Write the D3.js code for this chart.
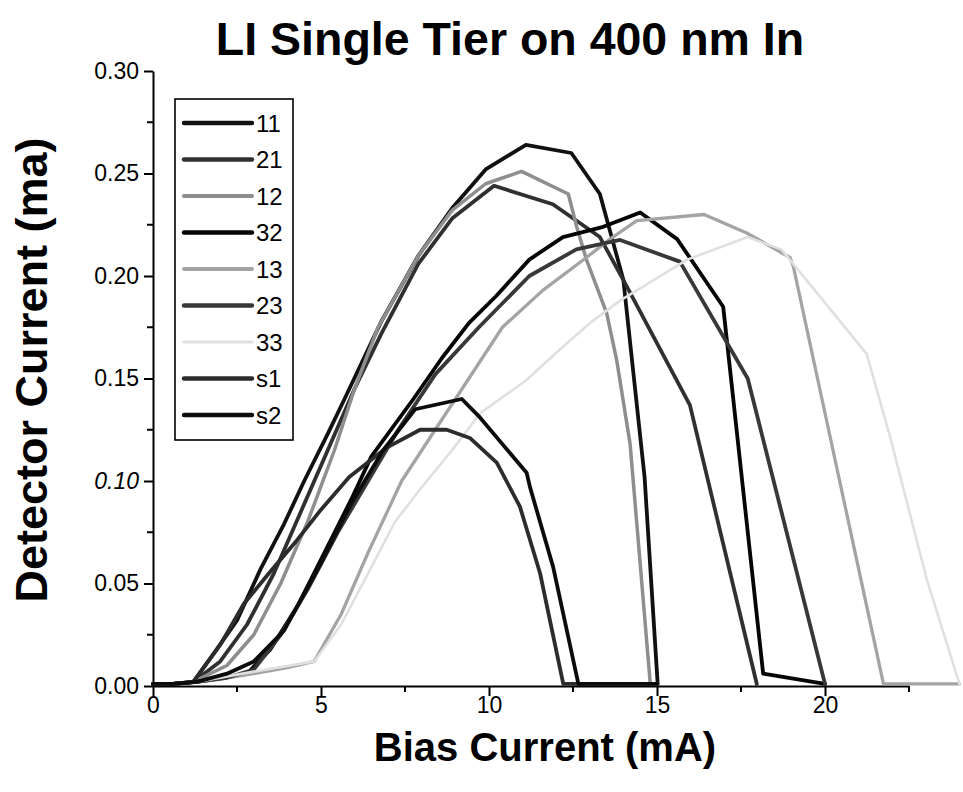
<!DOCTYPE html>
<html>
<head>
<meta charset="utf-8">
<script src="https://cdn.jsdelivr.net/npm/d3@7"></script>
<style>
  html, body { margin: 0; padding: 0; background: #fff; }
  svg { display: block; }
  text { font-family: Arial, "Liberation Sans", Helvetica, sans-serif; fill: #000; }
</style>
</head>
<body>
<svg id="chart" width="963" height="792"></svg>
<script>
// LI curves: detector current (mA) versus bias current (mA), [bias, detector] pairs
const s11 = [[0,0.001],[0.6,0.001],[1.2,0.002],[1.9,0.018],[2.5,0.032],[3.2,0.057],[3.9,0.079],[4.5,0.100],[5.2,0.123],[5.7,0.140],[6.8,0.178],[7.9,0.210],[8.9,0.233],[9.9,0.252],[11.1,0.264],[12.45,0.260],[13.3,0.240],[14.0,0.198],[14.63,0.102],[15.02,0.001]];
const s21 = [[0,0.001],[0.6,0.001],[1.2,0.002],[2.0,0.012],[2.8,0.030],[3.6,0.055],[4.4,0.085],[5.2,0.115],[6.0,0.145],[6.8,0.172],[7.9,0.206],[8.9,0.228],[10.15,0.244],[11.9,0.235],[13.3,0.219],[14.0,0.198],[15.98,0.137],[17.97,0.001]];
const s12 = [[0,0.001],[0.6,0.001],[1.2,0.002],[2.2,0.010],[3.0,0.025],[3.8,0.050],[4.6,0.080],[5.4,0.115],[6.0,0.145],[6.7,0.175],[7.9,0.210],[8.9,0.232],[9.9,0.245],[10.97,0.251],[12.36,0.240],[12.61,0.224],[12.9,0.208],[13.5,0.182],[13.8,0.159],[14.2,0.118],[14.8,0.001]];
const s32 = [[0,0.001],[0.6,0.001],[1.3,0.002],[2.1,0.004],[2.8,0.006],[3.5,0.018],[4.3,0.039],[5.1,0.065],[5.9,0.091],[6.5,0.112],[7.75,0.140],[8.6,0.160],[9.4,0.177],[10.2,0.190],[11.2,0.208],[12.2,0.219],[13.4,0.224],[14.5,0.231],[15.6,0.218],[16.97,0.185],[17.07,0.170],[18.16,0.006],[20.0,0.001]];
const s13 = [[0,0.001],[0.6,0.001],[1.3,0.002],[2.2,0.004],[3.0,0.006],[4.0,0.009],[4.8,0.012],[5.6,0.035],[6.4,0.065],[7.4,0.100],[8.2,0.120],[9.2,0.145],[10.4,0.175],[11.6,0.193],[12.9,0.209],[13.6,0.218],[14.4,0.227],[16.4,0.230],[17.67,0.221],[18.96,0.209],[19.06,0.2045],[21.74,0.001],[24.0,0.001]];
const s23 = [[0,0.001],[0.6,0.001],[1.3,0.002],[2.2,0.004],[3.0,0.008],[3.8,0.025],[4.6,0.047],[5.5,0.075],[6.4,0.100],[7.3,0.125],[8.4,0.152],[9.7,0.175],[11.2,0.200],[12.6,0.213],[13.9,0.2176],[15.68,0.207],[17.7,0.150],[20.0,0.001]];
const s33 = [[0,0.001],[0.6,0.001],[1.3,0.002],[3.0,0.007],[4.8,0.012],[5.6,0.030],[6.5,0.058],[7.2,0.080],[7.95,0.096],[8.9,0.115],[9.73,0.133],[11.1,0.149],[12.1,0.164],[13.0,0.177],[13.9,0.188],[15.9,0.208],[17.7,0.219],[18.7,0.213],[19.45,0.198],[21.24,0.162],[21.93,0.122],[23.03,0.052],[24.0,0.001]];
const ss1 = [[0,0.001],[0.6,0.001],[1.2,0.002],[2.0,0.020],[2.7,0.040],[3.5,0.056],[4.28,0.071],[5.0,0.086],[5.84,0.102],[6.93,0.116],[7.95,0.125],[8.74,0.125],[9.43,0.121],[10.23,0.109],[10.92,0.0875],[11.52,0.055],[12.21,0.001],[13.0,0.001],[14.0,0.001],[15.0,0.001]];
const ss2 = [[0,0.001],[0.6,0.001],[1.3,0.002],[2.2,0.006],[3.0,0.012],[3.9,0.027],[4.9,0.057],[5.9,0.089],[6.85,0.115],[7.8,0.135],[9.19,0.140],[9.73,0.131],[11.12,0.104],[11.22,0.097],[11.91,0.058],[12.66,0.001],[13.5,0.001],[14.2,0.001],[15.0,0.001]];

const seriesNames = ["11", "21", "12", "32", "13", "23", "33", "s1", "s2"];
const seriesData  = [s11, s21, s12, s32, s13, s23, s33, ss1, ss2];

const xTicks = [0, 5, 10, 15, 20];
const yTicks = [0.00, 0.05, 0.10, 0.15, 0.20, 0.25, 0.30];

const titleText = "LI Single Tier on 400 nm In";
const xTitle = "Bias Current (mA)";
const yTitle = "Detector Current (ma)";

// stroke style per series
const seriesColor = {
  "11": "#111111", "21": "#303030", "12": "#8e8e8e", "32": "#050505",
  "13": "#a4a4a4", "23": "#383838", "33": "#e0e0e0", "s1": "#2c2c2c", "s2": "#0c0c0c"
};
const seriesWidth = {
  "11": 3.8, "21": 3.8, "12": 3.5, "32": 3.8, "13": 3.3, "23": 3.8, "33": 2.6, "s1": 3.8, "s2": 3.8
};

const svg = d3.select("#chart");
const plot = { left: 153, right: 909, top: 71, bottom: 686 };

const x = d3.scaleLinear().domain([0, 22.5]).range([plot.left, plot.right]);
const y = d3.scaleLinear().domain([0, 0.30]).range([plot.bottom, plot.top]);

// title
svg.append("text")
  .attr("x", 510).attr("y", 55)
  .attr("text-anchor", "middle")
  .style("font-size", "46.5px").style("font-weight", "bold")
  .text(titleText);

// axis titles
svg.append("text")
  .attr("x", 545).attr("y", 761)
  .attr("text-anchor", "middle")
  .style("font-size", "40px").style("font-weight", "bold")
  .text(xTitle);

svg.append("text")
  .attr("transform", "translate(47,370) rotate(-90)")
  .attr("text-anchor", "middle")
  .style("font-size", "45px").style("font-weight", "bold")
  .text(yTitle);

// minor ticks
const xMinor = d3.range(0, 22.51, 2.5).filter(v => Math.abs(v % 5) > 1e-6);
const yMinor = d3.range(0.025, 0.30, 0.05);

const axisG = svg.append("g");

const xAxis = d3.axisBottom(x).tickValues(xTicks).tickFormat(d3.format("d"))
  .tickSizeInner(10).tickSizeOuter(0).tickPadding(1);
const gx = axisG.append("g").attr("transform", `translate(0,${plot.bottom})`).call(xAxis);
gx.append("g").selectAll("line").data(xMinor).join("line")
  .attr("x1", d => x(d)).attr("x2", d => x(d)).attr("y1", 0).attr("y2", 6)
  .attr("stroke", "#000").attr("stroke-width", 2);

const yAxis = d3.axisLeft(y).tickValues(yTicks).tickFormat(d3.format(".2f"))
  .tickSizeInner(9).tickSizeOuter(0).tickPadding(5);
const gy = axisG.append("g").attr("transform", `translate(${plot.left},0)`).call(yAxis);
gy.append("g").selectAll("line").data(yMinor).join("line")
  .attr("x1", 0).attr("x2", -6).attr("y1", d => y(d)).attr("y2", d => y(d))
  .attr("stroke", "#000").attr("stroke-width", 2);

axisG.selectAll(".domain").attr("stroke", "#000").attr("stroke-width", 2);
axisG.selectAll(".tick line").attr("stroke", "#000").attr("stroke-width", 2);
axisG.selectAll(".tick text").style("font-size", "23px").style("font-family", "Arial, 'Liberation Sans', sans-serif");
gy.selectAll(".tick text").filter(d => Math.abs(d - 0.10) < 1e-9).style("font-style", "italic");

// curves
const line = d3.line().x(d => x(d[0])).y(d => y(d[1]));
const curves = svg.append("g").attr("fill", "none")
  .attr("stroke-linejoin", "round").attr("stroke-linecap", "round");
seriesNames.forEach((name, i) => {
  curves.append("path")
    .datum(seriesData[i])
    .attr("d", line)
    .attr("stroke", seriesColor[name])
    .attr("stroke-width", seriesWidth[name]);
});

// legend
const legend = svg.append("g").attr("transform", "translate(175,99)");
legend.append("rect")
  .attr("x", 0).attr("y", 0).attr("width", 118).attr("height", 341)
  .attr("fill", "#fff").attr("stroke", "#000").attr("stroke-width", 1.6);
seriesNames.forEach((name, i) => {
  const cy = 24 + i * 36.5;
  legend.append("line")
    .attr("x1", 9).attr("x2", 77).attr("y1", cy).attr("y2", cy)
    .attr("stroke", seriesColor[name]).attr("stroke-width", seriesWidth[name] + 0.6)
    .attr("stroke-linecap", "round");
  legend.append("text")
    .attr("x", 81).attr("y", cy + 8.5)
    .style("font-size", "24px")
    .text(name);
});
</script>
</body>
</html>
